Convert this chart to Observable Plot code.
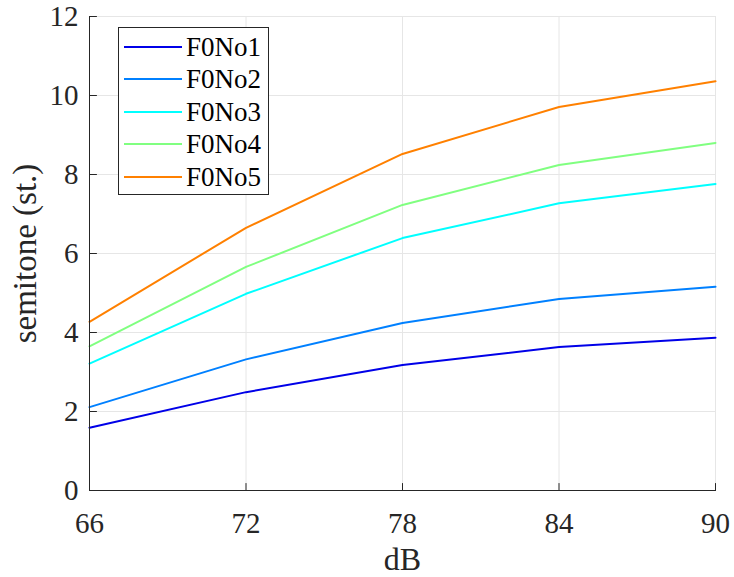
<!DOCTYPE html>
<html>
<head>
<meta charset="utf-8">
<script src="https://cdn.jsdelivr.net/npm/d3@7"></script>
<script src="https://cdn.jsdelivr.net/npm/@observablehq/plot@0.6"></script>
<style>
  html, body { margin: 0; padding: 0; background: #fff; }
  #wrap { position: relative; width: 734px; height: 577px; font-family: 'Liberation Serif', 'Times New Roman', Tinos, 'Nimbus Roman', Times, serif; }
  #legend { position: absolute; left: 118px; top: 27px; width: 151px; height: 168px; border: 1px solid #262626; background: #fff; box-sizing: border-box; }
  .lg-row { position: absolute; left: 0; height: 32px; width: 100%; }
  .lg-row svg { position: absolute; left: 5px; top: 0; }
  .lg-row span { position: absolute; left: 67px; top: 0; line-height: 32px; font-size: 27px; color: #000; }
</style>
</head>
<body>
<div id="wrap"></div>
<script>
const dB = [66, 72, 78, 84, 90];
const seriesNames = ["F0No1", "F0No2", "F0No3", "F0No4", "F0No5"];
const seriesColors = ["#0000e8", "#0080ff", "#00ffff", "#80ff80", "#ff8000"];
const f0No1 = [1.59, 2.49, 3.18, 3.63, 3.87];
const f0No2 = [2.11, 3.32, 4.24, 4.85, 5.16];
const f0No3 = [3.21, 4.98, 6.39, 7.27, 7.76];
const f0No4 = [3.65, 5.66, 7.23, 8.24, 8.80];
const f0No5 = [4.27, 6.65, 8.52, 9.71, 10.36];
const xTicks = [66, 72, 78, 84, 90];
const yTicks = [0, 2, 4, 6, 8, 10, 12];
const xLabel = "dB";
const yLabel = "semitone (st.)";

const allSeries = [f0No1, f0No2, f0No3, f0No4, f0No5];
const data = [];
allSeries.forEach((vals, i) => vals.forEach((v, j) => data.push({series: seriesNames[i], dB: dB[j], st: v})));

const serifFont = "'Liberation Serif', 'Times New Roman', Tinos, 'Nimbus Roman', Times, serif";
const tickShape = { draw(context, l) { context.moveTo(0, 0); context.lineTo(0, -l); } };
const axisColor = "#262626";
const gridColor = "#e6e6e6";

const chart = Plot.plot({
  width: 734,
  height: 577,
  marginLeft: 89,
  marginRight: 19,
  marginTop: 16,
  marginBottom: 87,
  style: { fontFamily: serifFont, fontSize: "29px", color: axisColor, background: "#fff", overflow: "visible" },
  x: { domain: [66, 90] },
  y: { domain: [0, 12] },
  color: { domain: seriesNames, range: seriesColors },
  marks: [
    Plot.gridX(xTicks, { stroke: gridColor, strokeOpacity: 1, strokeWidth: 1 }),
    Plot.gridY(yTicks, { stroke: gridColor, strokeOpacity: 1, strokeWidth: 1 }),
    Plot.axisX(xTicks, { tickSize: 0, tickPadding: 22, label: null, fill: axisColor, fontSize: 29 }),
    Plot.axisY(yTicks, { tickSize: 0, tickPadding: 11, label: null, fill: axisColor, fontSize: 29 }),
    Plot.line(data, { x: "dB", y: "st", stroke: "series", strokeWidth: 2 }),
    Plot.vectorX(xTicks, { x: d => d, frameAnchor: "bottom", anchor: "start", length: 7, rotate: 0, shape: tickShape, stroke: axisColor, strokeWidth: 1 }),
    Plot.vectorY(yTicks, { y: d => d, frameAnchor: "left", anchor: "start", length: 7, rotate: 90, shape: tickShape, stroke: axisColor, strokeWidth: 1 }),
    Plot.frame({ anchor: "bottom", stroke: axisColor, strokeWidth: 1 }),
    Plot.frame({ anchor: "left", stroke: axisColor, strokeWidth: 1 }),
    Plot.text([xLabel], { text: d => d, frameAnchor: "bottom", textAnchor: "middle", dy: 69, lineAnchor: "middle", fontSize: 32, fill: axisColor }),
    Plot.text([yLabel], { text: d => d, frameAnchor: "left", textAnchor: "middle", dx: -64, rotate: -90, lineAnchor: "middle", fontSize: 33, fill: axisColor })
  ]
});

const wrap = document.getElementById("wrap");
wrap.appendChild(chart);

const legend = document.createElement("div");
legend.id = "legend";
seriesNames.forEach((name, i) => {
  const row = document.createElement("div");
  row.className = "lg-row";
  row.style.top = (3 + i * 32.4) + "px";
  const ns = "http://www.w3.org/2000/svg";
  const svg = document.createElementNS(ns, "svg");
  svg.setAttribute("width", 58);
  svg.setAttribute("height", 32);
  const ln = document.createElementNS(ns, "line");
  ln.setAttribute("x1", 0); ln.setAttribute("x2", 58);
  ln.setAttribute("y1", 16); ln.setAttribute("y2", 16);
  ln.setAttribute("stroke", seriesColors[i]);
  ln.setAttribute("stroke-width", 2);
  svg.appendChild(ln);
  row.appendChild(svg);
  const sp = document.createElement("span");
  sp.textContent = name;
  row.appendChild(sp);
  legend.appendChild(row);
});
wrap.appendChild(legend);
</script>
</body>
</html>
